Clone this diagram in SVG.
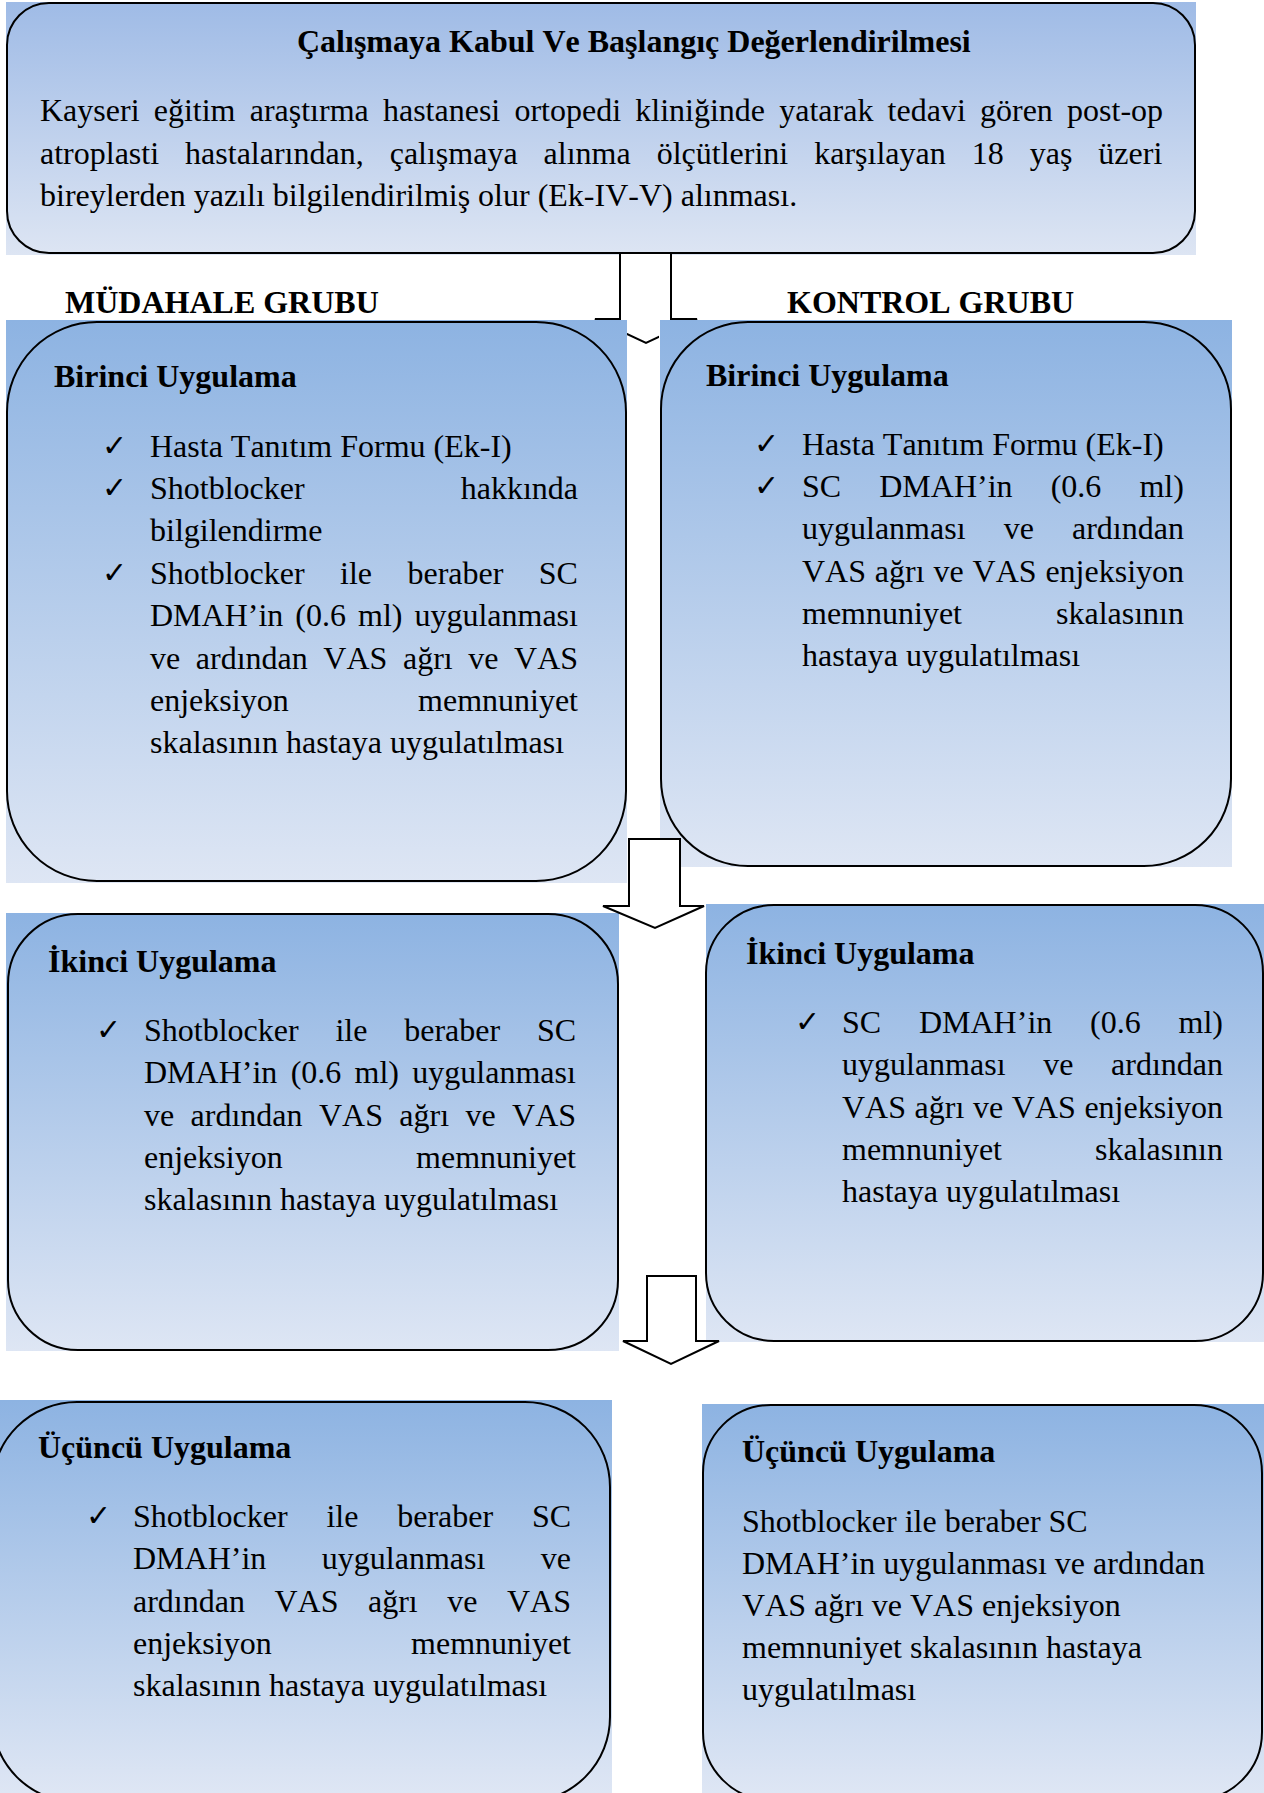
<svg xmlns="http://www.w3.org/2000/svg" width="1264" height="1793" viewBox="0 0 1264 1793">
<defs>
<linearGradient id="gTop" x1="0" y1="0" x2="0" y2="1">
<stop offset="0" stop-color="#9FBBE6"/>
<stop offset="1" stop-color="#DDE5F3"/>
</linearGradient>
<linearGradient id="gBox" x1="0" y1="0" x2="0" y2="1">
<stop offset="0" stop-color="#8DB3E2"/>
<stop offset="1" stop-color="#DEE6F4"/>
</linearGradient>
<clipPath id="clipA1">
<rect x="0" y="0" width="1264" height="320"/>
<rect x="627" y="0" width="32" height="400"/>
</clipPath>
<style>
.out{fill:none;stroke:#000;stroke-width:2}
.t{font-family:"Liberation Serif","Times New Roman",serif;font-size:32px;fill:#000;font-kerning:none;font-variant-ligatures:none}
.b{font-family:"Liberation Serif","Times New Roman",serif;font-size:32px;font-weight:bold;fill:#000;font-kerning:none;font-variant-ligatures:none}
.ck{font-family:"DejaVu Sans",sans-serif;font-size:30px;font-weight:bold;fill:#000}
.arr{fill:#fff;stroke:#000;stroke-width:2;stroke-linejoin:miter}
</style>
</defs>
<rect width="1264" height="1793" fill="#fff"/>

<g id="node-baslangic">
<rect x="6" y="2" width="1190" height="253" fill="url(#gTop)"/>
<rect class="out" x="7" y="3" width="1188" height="250" rx="42" ry="42"/>
<text class="b" x="297" y="52">Çalışmaya Kabul Ve Başlangıç Değerlendirilmesi</text>
<text class="t" x="40" y="121" word-spacing="6.2">Kayseri eğitim araştırma hastanesi ortopedi kliniğinde yatarak tedavi gören post-op</text>
<text class="t" x="40" y="164" word-spacing="18">atroplasti hastalarından, çalışmaya alınma ölçütlerini karşılayan 18 yaş üzeri</text>
<text class="t" x="40" y="206">bireylerden yazılı bilgilendirilmiş olur (Ek-IV-V) alınması.</text>
</g>

<g id="label-mudahale"><text class="b" x="65" y="313">MÜDAHALE GRUBU</text></g>
<g id="label-kontrol"><text class="b" x="787" y="313">KONTROL GRUBU</text></g>

<g id="node-mudahale-birinci">
<rect x="6" y="320" width="621" height="563" fill="url(#gBox)"/>
<rect class="out" x="7" y="322" width="619" height="559" rx="90" ry="90"/>
<text class="b" x="54" y="387">Birinci Uygulama</text>
<text class="ck" x="102" y="456">✓</text>
<text class="t" x="150" y="457">Hasta Tanıtım Formu (Ek-I)</text>
<text class="ck" x="102" y="498">✓</text>
<text class="t" y="499"><tspan x="150">Shotblocker</tspan><tspan x="578" text-anchor="end">hakkında</tspan></text>
<text class="t" x="150" y="541">bilgilendirme</text>
<text class="ck" x="102" y="583">✓</text>
<text class="t" x="150" y="584" word-spacing="27.4">Shotblocker ile beraber SC</text>
<text class="t" x="150" y="626" word-spacing="4">DMAH’in (0.6 ml) uygulanması</text>
<text class="t" x="150" y="669" word-spacing="7.6">ve ardından VAS ağrı ve VAS</text>
<text class="t" y="711"><tspan x="150">enjeksiyon</tspan><tspan x="578" text-anchor="end">memnuniyet</tspan></text>
<text class="t" x="150" y="753">skalasının hastaya uygulatılması</text>
</g>

<g id="node-kontrol-birinci">
<rect x="660" y="320" width="572" height="547" fill="url(#gBox)"/>
<rect class="out" x="661" y="322" width="570" height="544" rx="87" ry="87"/>
<text class="b" x="706" y="386">Birinci Uygulama</text>
<text class="ck" x="754" y="454">✓</text>
<text class="t" x="802" y="455">Hasta Tanıtım Formu (Ek-I)</text>
<text class="ck" x="754" y="496">✓</text>
<text class="t" x="802" y="497" word-spacing="30.1">SC DMAH’in (0.6 ml)</text>
<text class="t" x="802" y="539" word-spacing="30.1">uygulanması ve ardından</text>
<text class="t" x="802" y="582" word-spacing="0.85">VAS ağrı ve VAS enjeksiyon</text>
<text class="t" y="624"><tspan x="802">memnuniyet</tspan><tspan x="1184" text-anchor="end">skalasının</tspan></text>
<text class="t" x="802" y="666">hastaya uygulatılması</text>
</g>

<g id="node-mudahale-ikinci">
<rect x="6" y="913" width="613" height="438" fill="url(#gBox)"/>
<rect class="out" x="8" y="914" width="610" height="436" rx="70" ry="70"/>
<text class="b" x="48" y="972">İkinci Uygulama</text>
<text class="ck" x="96" y="1040">✓</text>
<text class="t" x="144" y="1041" word-spacing="28.8">Shotblocker ile beraber SC</text>
<text class="t" x="144" y="1083" word-spacing="5.3">DMAH’in (0.6 ml) uygulanması</text>
<text class="t" x="144" y="1126" word-spacing="8.4">ve ardından VAS ağrı ve VAS</text>
<text class="t" y="1168"><tspan x="144">enjeksiyon</tspan><tspan x="576" text-anchor="end">memnuniyet</tspan></text>
<text class="t" x="144" y="1210">skalasının hastaya uygulatılması</text>
</g>

<g id="node-kontrol-ikinci">
<rect x="706" y="904" width="558" height="438" fill="url(#gBox)"/>
<rect class="out" x="706" y="905" width="557" height="436" rx="68" ry="68"/>
<text class="b" x="746" y="964">İkinci Uygulama</text>
<text class="ck" x="795" y="1032">✓</text>
<text class="t" x="842" y="1033" word-spacing="29.8">SC DMAH’in (0.6 ml)</text>
<text class="t" x="842" y="1075" word-spacing="29.65">uygulanması ve ardından</text>
<text class="t" x="842" y="1118" word-spacing="0.6">VAS ağrı ve VAS enjeksiyon</text>
<text class="t" y="1160"><tspan x="842">memnuniyet</tspan><tspan x="1223" text-anchor="end">skalasının</tspan></text>
<text class="t" x="842" y="1202">hastaya uygulatılması</text>
</g>

<g id="node-mudahale-ucuncu">
<rect x="0" y="1400" width="612" height="393" fill="url(#gBox)"/>
<rect class="out" x="-8" y="1402" width="618" height="400" rx="85" ry="85"/>
<text class="b" x="38" y="1458">Üçüncü Uygulama</text>
<text class="ck" x="86" y="1526">✓</text>
<text class="t" x="133" y="1527" word-spacing="30.8">Shotblocker ile beraber SC</text>
<text class="t" x="133" y="1569" word-spacing="47.5">DMAH’in uygulanması ve</text>
<text class="t" x="133" y="1612" word-spacing="21.5">ardından VAS ağrı ve VAS</text>
<text class="t" y="1654"><tspan x="133">enjeksiyon</tspan><tspan x="571" text-anchor="end">memnuniyet</tspan></text>
<text class="t" x="133" y="1696">skalasının hastaya uygulatılması</text>
</g>

<g id="node-kontrol-ucuncu">
<rect x="702" y="1404" width="562" height="389" fill="url(#gBox)"/>
<rect class="out" x="703" y="1405" width="559" height="395" rx="68" ry="68"/>
<text class="b" x="742" y="1462">Üçüncü Uygulama</text>
<text class="t" x="742" y="1532">Shotblocker ile beraber SC</text>
<text class="t" x="742" y="1574">DMAH’in uygulanması ve ardından</text>
<text class="t" x="742" y="1616">VAS ağrı ve VAS enjeksiyon</text>
<text class="t" x="742" y="1658">memnuniyet skalasının hastaya</text>
<text class="t" x="742" y="1700">uygulatılması</text>
</g>

<g id="connectors">
<path class="arr" clip-path="url(#clipA1)" d="M620,253 V319 H595 L646,343 L697,319 H671 V253 Z"/>
<path class="arr" d="M629,839 V906 H603 L655,928 L704,906 H680 V839 Z"/>
<path class="arr" d="M647,1276 V1341 H623 L671,1364 L719,1341 H696 V1276 Z"/>
</g>
</svg>
